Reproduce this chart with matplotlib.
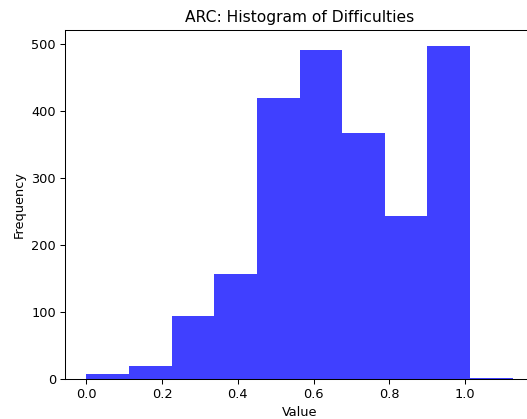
import numpy as np
import matplotlib
matplotlib.use("Agg")
import matplotlib.pyplot as plt

# Data
bin_min = 0.0
bin_max = 1.126
n_bins = 10
counts = [8, 19, 94, 157, 420, 491, 368, 243, 497, 2]

title = "ARC: Histogram of Difficulties"
xlabel = "Value"
ylabel = "Frequency"

s = 0.93
plt.rcParams.update({
    "font.size": 10 * s,
    "axes.titlesize": 12 * s,
    "axes.labelsize": 10 * s,
    "xtick.labelsize": 10 * s,
    "ytick.labelsize": 10 * s,
    "xtick.major.size": 3.5 * s,
    "ytick.major.size": 3.5 * s,
    "xtick.major.pad": 3.5 * s,
    "ytick.major.pad": 3.5 * s,
    "axes.linewidth": 0.8 * s,
    "xtick.major.width": 0.8 * s,
    "ytick.major.width": 0.8 * s,
    "axes.titlepad": 6.0 * s,
    "axes.labelpad": 4.0 * s,
})

edges = np.linspace(bin_min, bin_max, n_bins + 1)
centers = (edges[:-1] + edges[1:]) / 2

W, H = 527, 419
fig = plt.figure(figsize=(W / 100, H / 100), dpi=100)
ax = fig.add_axes([65 / W, (H - 379.2) / H, (534 - 65) / W, (379.2 - 29.5) / H])

ax.hist(centers, bins=edges, weights=counts, color="blue", alpha=0.75)
ax.set_title(title)
ax.set_xlabel(xlabel)
ax.set_ylabel(ylabel)
ax.set_xticks([0.0, 0.2, 0.4, 0.6, 0.8, 1.0])
ax.set_yticks([0, 100, 200, 300, 400, 500])
ax.spines["right"].set_visible(False)

fig.savefig("out.png", dpi=100)
